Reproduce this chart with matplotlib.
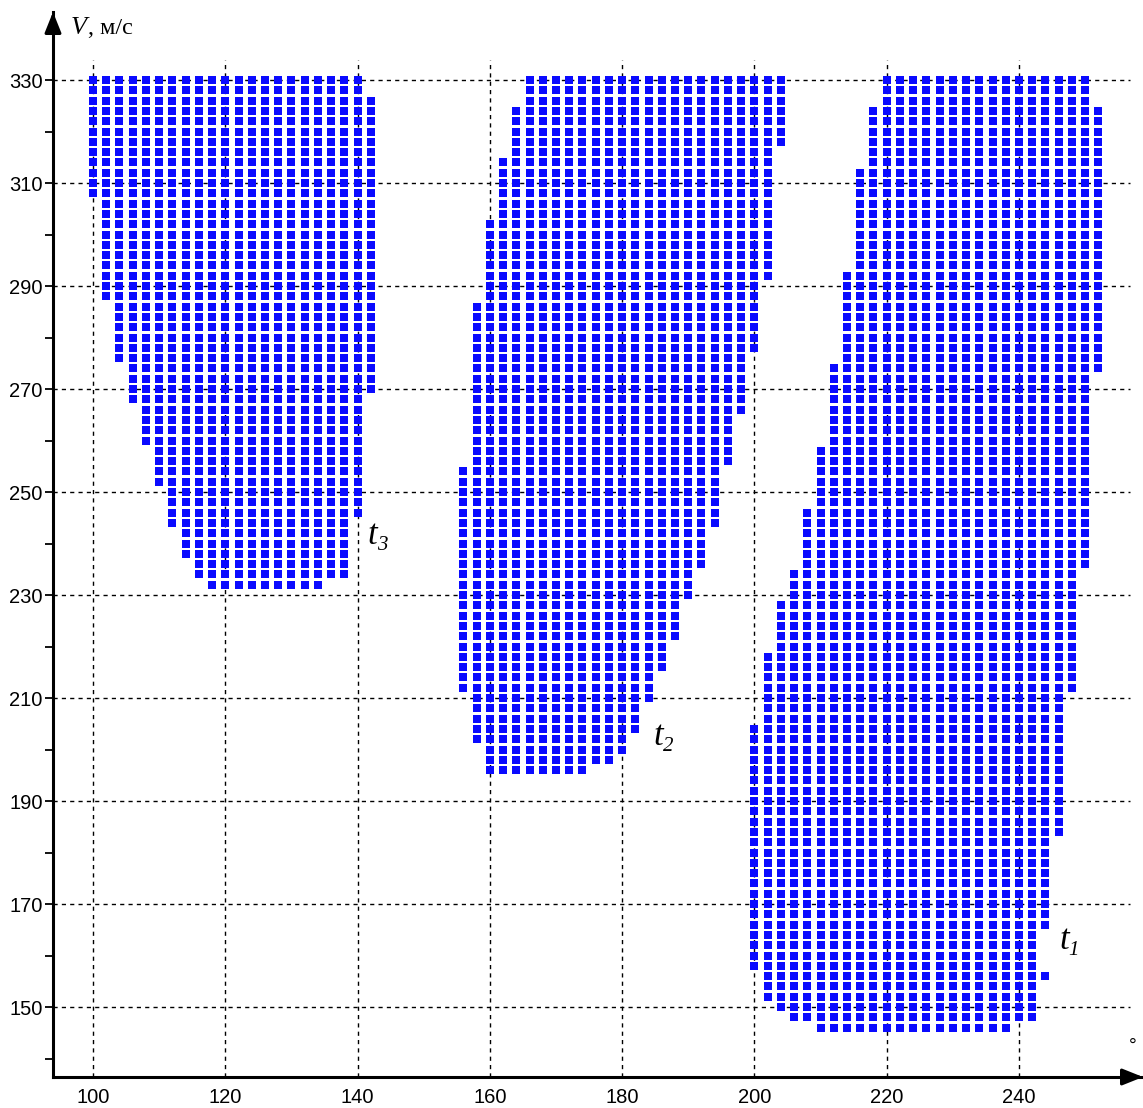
import numpy as np
import matplotlib
matplotlib.use("Agg")
import matplotlib.pyplot as plt

# ---- data: columns of feasible points (angle, speed bounds), step 2 ----
V_STEP = 2

t3_x = list(range(100, 144, 2))
t3_top = [330] * 21 + [326]
t3_bot = [308, 288, 276, 268, 260, 252, 244, 238, 234, 232, 232, 232, 232,
          232, 232, 232, 232, 232, 234, 234, 246, 270]

t2_x = list(range(156, 206, 2))
t2_top = [254, 286, 302, 314, 324] + [330] * 20
t2_bot = [212, 202, 196, 196, 196, 196, 196, 196, 196, 196, 198, 198, 200,
          204, 210, 216, 222, 230, 236, 244, 256, 266, 278, 292, 318]

t1_x = list(range(200, 254, 2))
t1_top = [204, 218, 228, 234, 246, 258, 274, 292, 312, 324] + [330] * 16 + [324]
t1_bot = [158, 152, 150, 148, 148] + [146] * 15 + [148, 148, 166, 184, 212,
                                                    236, 274]
# single detached point
extra_x = [244]
extra_v = [156]

labels = ["3", "2", "1"]
label_x = [141.53, 184.67, 246.05]
label_v = [239.84, 200.87, 161.26]
x_ticks = [100, 120, 140, 160, 180, 200, 220, 240]
y_ticks = [150, 170, 190, 210, 230, 250, 270, 290, 310, 330]
y_minor = [140, 160, 180, 200, 220, 240, 260, 280, 300, 320]

W, H = 1143, 1108
fig = plt.figure(figsize=(W / 100, H / 100), dpi=100)
left_px, bottom_px, right_px, top_px = 53, 1077, 1143, 12
ax = fig.add_axes([left_px / W, 1 - bottom_px / H,
                   (right_px - left_px) / W, (bottom_px - top_px) / H])

px_per_x = 6.614
px_per_v = 5.15
xmin = 100 + (left_px - 93) / px_per_x
xmax = 100 + (right_px - 93) / px_per_x
vmin = 330 - (bottom_px - 80) / px_per_v
vmax = 330 + (80 - top_px) / px_per_v
ax.set_xlim(xmin, xmax)
ax.set_ylim(vmin, vmax)

# grid lines (dashed)
grid_top = 330 + (80 - 60) / px_per_v
grid_right = 100 + (1130 - 93) / px_per_x
ax.vlines(x_ticks, vmin, grid_top, colors='black', linewidth=1.0,
          linestyles=(0, (3, 3)), zorder=1)
ax.hlines(y_ticks, xmin, grid_right, colors='black', linewidth=1.0,
          linestyles=(0, (3, 3)), zorder=1)

# points
MS = 5.4
for xs, tops, bots in [(t3_x, t3_top, t3_bot), (t2_x, t2_top, t2_bot),
                       (t1_x, t1_top, t1_bot)]:
    px, pv = [], []
    for x, t, b in zip(xs, tops, bots):
        for v in range(b, t + 1, V_STEP):
            px.append(x)
            pv.append(v)
    ax.plot(px, pv, linestyle='none', marker='s', markersize=MS,
            color='#0a0aff', markeredgewidth=0, zorder=3)
ax.plot(extra_x, extra_v, linestyle='none', marker='s', markersize=MS,
        color='#0a0aff', markeredgewidth=0, zorder=3)

# region labels: italic t with italic subscript
for sub, lx, lv in zip(labels, label_x, label_v):
    ax.text(lx, lv, 't', fontsize=25, family='Liberation Serif',
            style='italic', ha='left', va='baseline', zorder=4)
    ax.annotate(sub, xy=(lx, lv), xytext=(7.0, -4.3),
                textcoords='offset points', fontsize=15,
                family='Liberation Serif', style='italic',
                ha='left', va='baseline', zorder=4)

# axes styling
for s in ['top', 'right']:
    ax.spines[s].set_visible(False)
for s in ['left', 'bottom']:
    ax.spines[s].set_linewidth(2.2)
ax.set_xticks(x_ticks)
ax.set_xticklabels([str(v) for v in x_ticks])
ax.set_yticks(y_ticks)
ax.set_yticklabels([str(v) for v in y_ticks])
ax.set_yticks(y_minor, minor=True)
ax.tick_params(axis='x', length=0, pad=8, labelsize=14.5)
ax.tick_params(axis='y', which='both', direction='out', length=6, width=1.3,
               pad=1.5, labelsize=14.5)
for lbl in ax.get_xticklabels() + ax.get_yticklabels():
    lbl.set_fontfamily('Liberation Sans')

# arrow heads at the ends of the axes
arrow_style = '-|>,head_length=1.25,head_width=0.5'
ax.annotate('', xy=(0, 1.0), xytext=(0, 0.985), xycoords='axes fraction',
            arrowprops=dict(arrowstyle=arrow_style, color='black', lw=2.2,
                            shrinkA=0, shrinkB=0), annotation_clip=False)
ax.annotate('', xy=(1.0, 0), xytext=(0.985, 0), xycoords='axes fraction',
            arrowprops=dict(arrowstyle=arrow_style, color='black', lw=2.2,
                            shrinkA=0, shrinkB=0), annotation_clip=False)

fig.text(71 / W, 1 - 33.5 / H, 'V', fontsize=19, style='italic',
         family='Liberation Serif', ha='left', va='baseline')
fig.text(88 / W, 1 - 33.5 / H, ', м/с', fontsize=17.5,
         family='Liberation Serif', ha='left', va='baseline')
fig.text(1133 / W, 1 - 1046 / H, '°', fontsize=14,
         family='Liberation Sans', ha='center', va='center')

fig.savefig('out.png', dpi=100)
